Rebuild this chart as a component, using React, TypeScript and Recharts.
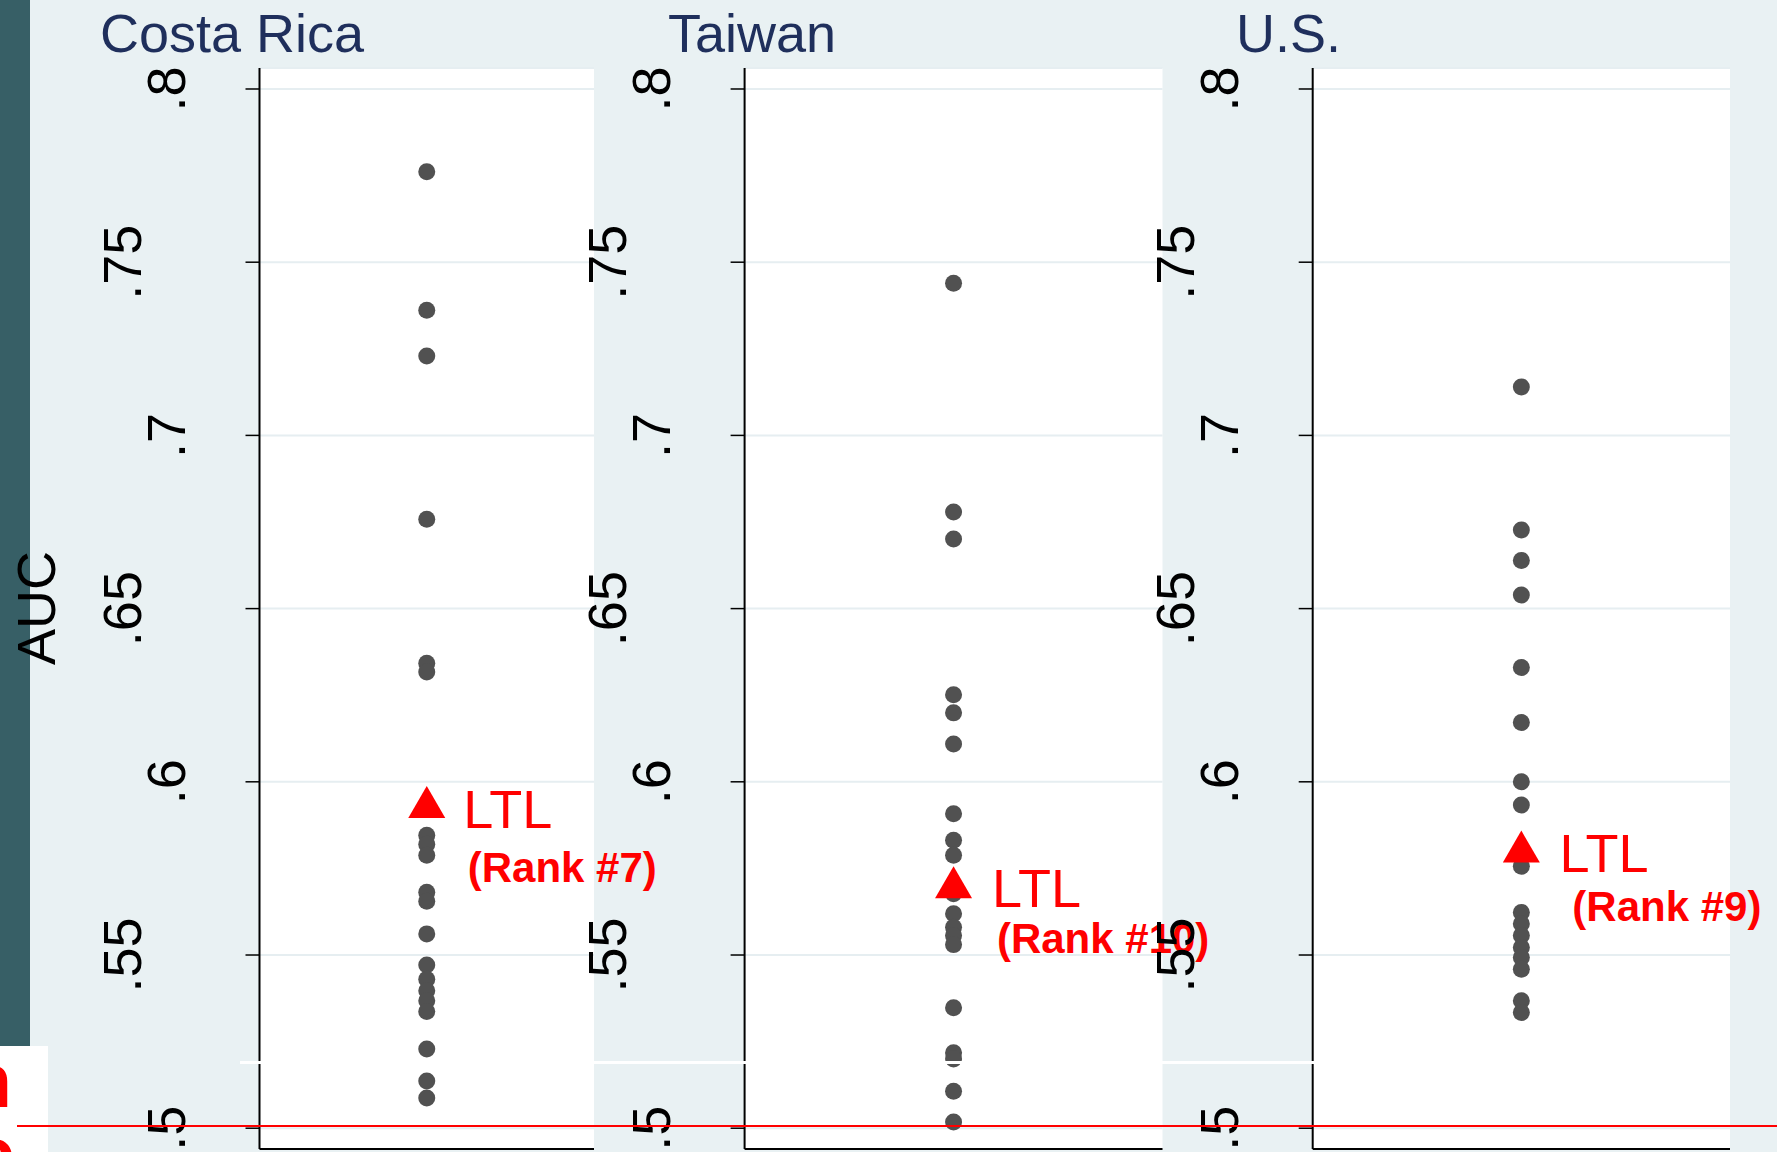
import React from 'react';
import { ScatterChart, Scatter, XAxis, YAxis, CartesianGrid } from 'recharts';

// AUC por modelo (um ponto cinza por modelo)
const COSTA_RICA_AUC = [
  0.7761, 0.7361, 0.7229, 0.6758, 0.6342, 0.6317, 0.5846, 0.582, 0.5788, 0.5681,
  0.5655, 0.5561, 0.5471, 0.543, 0.5397, 0.5368, 0.5337, 0.5229, 0.5136, 0.5087,
];
const TAIWAN_AUC = [
  0.7439, 0.6779, 0.6701, 0.6251, 0.6199, 0.6109, 0.5908, 0.5831, 0.5788, 0.5677,
  0.5619, 0.558, 0.5556, 0.553, 0.5348, 0.5218, 0.52, 0.5107, 0.5018,
];
const US_AUC = [
  0.714, 0.6727, 0.6639, 0.6539, 0.633, 0.6171, 0.6, 0.5933, 0.5756, 0.5623,
  0.559, 0.5556, 0.5522, 0.5493, 0.5459, 0.5368, 0.5334,
];
// triangulo vermelho (LTL) por pais
const LTL_AUC = [0.5942, 0.571, 0.5813];
const COUNTRIES = ['Costa Rica', 'Taiwan', 'U.S.'];
const RANK_LABELS = ['(Rank #7)', '(Rank #10)', '(Rank #9)'];
const Y_TICKS = [0.5, 0.55, 0.6, 0.65, 0.7, 0.75, 0.8];
const Y_DOMAIN: [number, number] = [0.494, 0.80606];

const W = 1777;
const H = 1152;
const FONT = '"Liberation Sans", Arial, sans-serif';
const BG = '#e9f1f3';
const DOT = '#515151';
const RED = '#ff0000';

// geometria de cada painel (px na pagina)
const PANELS = [
  { series: COSTA_RICA_AUC, plotLeft: 259.5, plotRight: 594, titleX: 100, ltl: [36.6, 26.3], rank: [41, 80.3] },
  { series: TAIWAN_AUC, plotLeft: 744.6, plotRight: 1162.5, titleX: 668, ltl: [38.4, 25], rank: [43.4, 71] },
  { series: US_AUC, plotLeft: 1312.7, plotRight: 1730, titleX: 1236, ltl: [38.1, 25.5], rank: [51, 74.5] },
];

const makeTick = (plotLeft: number) => (props: any) => {
  const { y, payload } = props;
  const v = payload.value as number;
  const major = Math.round(v * 100) % 10 === 0;
  const bx = plotLeft - (major ? 74.5 : 118.5);
  const label = String(v).replace(/^0/, '');
  return (
    <text x={bx} y={y} transform={`rotate(-90 ${bx} ${y})`} textAnchor="middle"
      fontSize={54} fontFamily={FONT} fill="#000">
      {label}
    </text>
  );
};

const Dot = (p: any) => <circle cx={p.cx} cy={p.cy} r={8.5} fill={DOT} />;

const makeLtlShape = (i: number) => (p: any) => {
  const { cx, cy } = p;
  const pn = PANELS[i];
  return (
    <g>
      <polygon points={`${cx - 18.5},${cy + 16} ${cx + 18.5},${cy + 16} ${cx},${cy - 16}`} fill={RED} />
      <text x={cx + pn.ltl[0]} y={cy + pn.ltl[1]} fontSize={54} fontFamily={FONT} fill={RED}>LTL</text>
      <text x={cx + pn.rank[0]} y={cy + pn.rank[1]} fontSize={42} fontWeight="bold" fontFamily={FONT} fill={RED}>
        {RANK_LABELS[i]}
      </text>
    </g>
  );
};

const Panel: React.FC<{ i: number }> = ({ i }) => {
  const pn = PANELS[i];
  const dots = pn.series.map(v => ({ x: 1, y: v }));
  const ltl = [{ x: 1, y: LTL_AUC[i] }];
  return (
    <div style={{ position: 'absolute', left: 0, top: 0 }}>
      <ScatterChart width={W} height={H} margin={{ top: 68, right: W - pn.plotRight, bottom: 0, left: 0 }}>
        <CartesianGrid vertical={false} fill="#ffffff" stroke="#e6eef1" strokeWidth={2} />
        <XAxis type="number" dataKey="x" domain={[0, 2]} tick={false} tickLine={false} height={3}
          axisLine={{ stroke: '#000', strokeWidth: 2 }} />
        <YAxis type="number" dataKey="y" domain={Y_DOMAIN} ticks={Y_TICKS} allowDataOverflow
          width={pn.plotLeft} tickSize={14} tick={makeTick(pn.plotLeft)}
          tickLine={{ stroke: '#000', strokeWidth: 1.5 }} axisLine={{ stroke: '#000', strokeWidth: 2 }} />
        <Scatter data={dots} shape={Dot} isAnimationActive={false} />
        <Scatter data={ltl} shape={makeLtlShape(i)} isAnimationActive={false} />
      </ScatterChart>
    </div>
  );
};

export default function App() {
  return (
    <div style={{ position: 'absolute', left: 0, top: 0, width: W, height: H, overflow: 'hidden', background: BG }}>
      {/* faixa lateral do slide */}
      <div style={{ position: 'absolute', left: 0, top: 0, width: 29.5, height: 1046, background: '#375f66' }} />
      <div style={{ position: 'absolute', left: 0, top: 1046, width: 48, height: 106, background: '#fff', overflow: 'hidden' }}>
        <svg width={48} height={106}>
          <text x={12} y={61} textAnchor="end" fontSize={76} fontWeight="bold" fontFamily={FONT} fill={RED}>n</text>
          <text x={14} y={134} textAnchor="end" fontSize={76} fontWeight="bold" fontFamily={FONT} fill={RED}>c</text>
        </svg>
      </div>
      {PANELS.map((_, i) => <Panel key={i} i={i} />)}
      <svg width={W} height={H} style={{ position: 'absolute', left: 0, top: 0 }}>
        {COUNTRIES.map((c, i) => (
          <text key={c} x={PANELS[i].titleX} y={52} fontSize={54} fontFamily={FONT} fill="#1f2f5c">{c}</text>
        ))}
        <text x={55} y={608} transform="rotate(-90 55 608)" textAnchor="middle" fontSize={54} fontFamily={FONT} fill="#000">
          AUC
        </text>
      </svg>
      {/* linhas sobrepostas do slide */}
      <div style={{ position: 'absolute', left: 240, top: 1061, width: 1490, height: 2.5, background: '#fff' }} />
      <div style={{ position: 'absolute', left: 16.5, top: 1124.5, width: W - 16.5, height: 2.5, background: RED }} />
    </div>
  );
}
